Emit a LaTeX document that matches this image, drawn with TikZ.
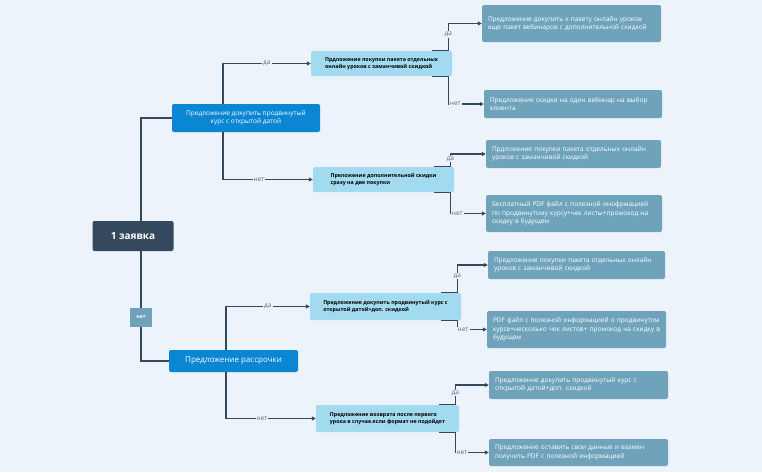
\documentclass[tikz,border=0pt]{standalone}
\usepackage{fontspec}
\setmainfont{Open Sans}
\usetikzlibrary{arrows.meta}
\definecolor{bg}{HTML}{EDF3FA}
\definecolor{dark}{HTML}{34495E}
\definecolor{blu}{HTML}{0A86D2}
\definecolor{lb}{HTML}{A2DAEF}
\definecolor{st}{HTML}{6FA3BC}
\begin{document}
\begin{tikzpicture}[x=1pt,y=-1pt,
  box/.style={rectangle,rounded corners=2pt,inner sep=2pt},
  root/.style={box,fill=dark,text=white,font=\bfseries\fontsize{10}{12}\selectfont},
  lvA/.style={box,fill=blu,text=white,align=center,font=\fontsize{6.5}{8}\selectfont},
  lvB/.style={box,fill=lb,text=black,align=left,font=\bfseries\fontsize{5.3}{7}\selectfont,inner xsep=5pt},
  lvC/.style={box,fill=st,text=white,align=left,font=\fontsize{6.5}{8.2}\selectfont,inner xsep=6pt,text width=#1},
  conn/.style={draw=dark,line width=1.1pt,-{Triangle[length=4pt,width=4pt]}},
  line/.style={draw=dark,line width=1.1pt},
  lab/.style={fill=bg,text=dark!80,inner sep=1pt,font=\fontsize{6.5}{7}\selectfont}]
\fill[bg] (0,0) rectangle (762,472);
\useasboundingbox (0,0) rectangle (762,472);
\node[root,minimum width=81pt,minimum height=30pt] (R) at (133,236) {1 заявка};
\node[lvA,minimum width=148pt,minimum height=28pt] (A1) at (246,118) {Предложение докупить продвинутый\\курс с открытой датой};
\node[lvA,minimum width=129pt,minimum height=22pt,font=\fontsize{8}{9}\selectfont] (A2) at (233.5,361) {Предложение рассрочки};
\node[lvB,minimum width=141pt,minimum height=25pt] (B1) at (381.5,63.5) {Прдложение покупки пакета отдельных\\онлайн уроков с заманчивой скидкой};
\node[lvB,minimum width=141pt,minimum height=25pt] (B2) at (383.5,179.5) {Преложение дополнительной скидки\\сразу на две покупки\hspace{40pt}};
\node[lvB,minimum width=151pt,minimum height=27pt] (B3) at (385.5,306.5) {Предложение докупить продвинутый курс с\\открытой датой+доп. скидкой\hspace{40pt}};
\node[lvB,minimum width=143pt,minimum height=27pt] (B4) at (387.5,418.5) {Предложение возврата после первого\\урока в случае.если формат не подойдет};
\node[lvC=167pt,minimum height=37pt] (C1) at (571.5,23.5) {Предложение докупить к пакету онлайн уроков еще пакет вебинаров с дополнительной скидкой};
\node[lvC=166pt,minimum height=28pt] (C2) at (573,104) {Предложение скидки на один вебинар на выбор клиента};
\node[lvC=163pt,minimum height=28pt] (C3) at (573.5,154) {Прдложение покупки пакета отдельных онлайн уроков с заманчивой скидкой};
\node[lvC=164pt,minimum height=37pt] (C4) at (574,213.5) {Бесплатный PDF файл с полезной инофрмацией по продвинутому курсу+чек листы+промокод на скидку в будущем};
\node[lvC=165pt,minimum height=28pt] (C5) at (576.5,265) {Предложение покупки пакета отдельных онлайн уроков с заманчивой скидкой};
\node[lvC=167pt,minimum height=37pt] (C6) at (576.5,329.5) {PDF файл с полезной информацией о продвинутом курсе+несколько чек листов+ промокод на скидку в будущем};
\node[lvC=167pt,minimum height=28pt] (C7) at (578.5,385) {Предложение докупить продвинутый курс с открытой датой+доп. скидкой};
\node[lvC=167pt,minimum height=27pt] (C8) at (578.5,452.5) {Предложение оставить свои данные и взамен получить PDF с полезной информацией};
% root connectors
\draw[line] ([xshift=8pt]R.north) |- (A1.west);
\draw[line] ([xshift=8pt]R.south) |- (A2.west) node[pos=0.3,fill=st,text=white,font=\bfseries\fontsize{5}{6}\selectfont,minimum width=22pt,minimum height=19pt,inner sep=1pt] (N) {нет};
% level A
\draw[conn] ([xshift=-23pt]A1.north) |- (B1.west) node[lab,pos=0.75] {да};
\draw[conn] ([xshift=-23pt]A1.south) |- (B2.west) node[lab,pos=0.7] {нет};
\draw[conn] ([xshift=-7.5pt]A2.north) |- (B3.west) node[lab,pos=0.75] {да};
\draw[conn] ([xshift=-7.5pt]A2.south) |- (B4.west) node[lab,pos=0.7] {нет};
% level B
\foreach \b/\u/\d in {B1/C1/C2,B2/C3/C4,B3/C5/C6,B4/C7/C8}{
  \draw[line] ([xshift=-20pt]\b.north east) -- ([xshift=-4pt]\b.north east);
  \draw[conn] ([xshift=-4pt]\b.north east) |- (\u.west) node[lab,pos=0.3] {да};
  \draw[line] ([xshift=-20pt]\b.south east) -- ([xshift=-4pt]\b.south east);
  \draw[conn] ([xshift=-4pt]\b.south east) |- (\d.west) node[lab,pos=0.6] {нет};
}
\end{tikzpicture}
\end{document}
